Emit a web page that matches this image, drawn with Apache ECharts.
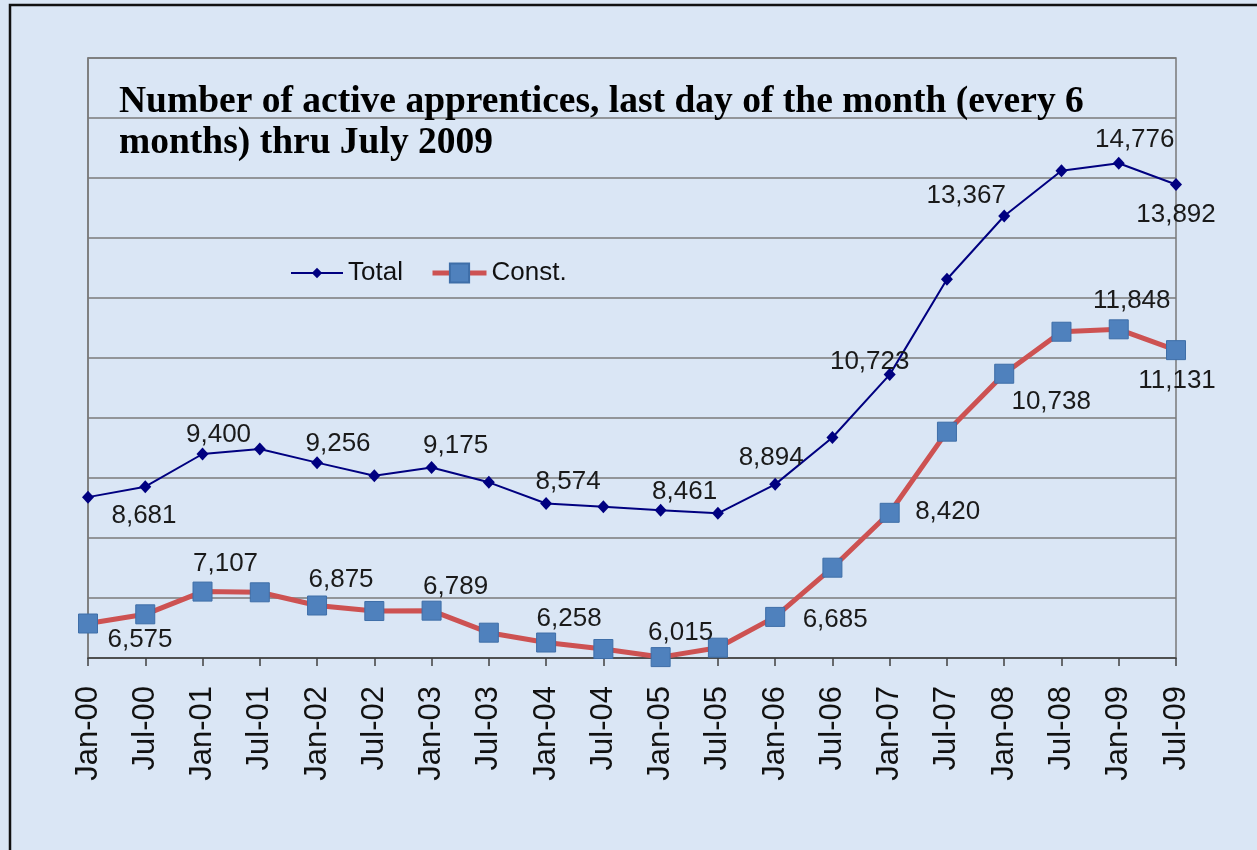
<!DOCTYPE html>
<html>
<head>
<meta charset="utf-8">
<script src="https://cdn.jsdelivr.net/npm/echarts@6/dist/echarts.min.js"></script>
<style>
html,body{margin:0;padding:0;background:#dae6f5;}
#chart{width:1257px;height:850px;}
</style>
</head>
<body>
<div id="chart"></div>
<script>
const categories = ['Jan-00','Jul-00','Jan-01','Jul-01','Jan-02','Jul-02','Jan-03','Jul-03','Jan-04','Jul-04',
  'Jan-05','Jul-05','Jan-06','Jul-06','Jan-07','Jul-07','Jan-08','Jul-08','Jan-09','Jul-09'];
const totalValues = [8681, 8855, 9400, 9483, 9256, 9038, 9175, 8928, 8574, 8522,
  8461, 8412, 8894, 9675, 10723, 12312, 13367, 14122, 14245, 13892];
const constValues = [6575, 6728, 7107, 7095, 6875, 6783, 6789, 6422, 6258, 6150,
  6015, 6172, 6685, 7505, 8420, 9772, 10738, 11438, 11478, 11131];
const totalLabels = ['8,681','','9,400','','9,256','','9,175','','8,574','',
  '8,461','','8,894','','10,723','','13,367','','14,776','13,892'];
const constLabels = ['6,575','','7,107','','6,875','','6,789','','6,258','',
  '6,015','','6,685','','8,420','','10,738','','11,848','11,131'];
const yMin = 6000, yMax = 16000, yStep = 1000;
const titleText = 'Number of active apprentices, last day of the month (every 6\nmonths) thru July 2009';

// label placement (layout only)
const totalLabelOffsets = [[56,19],null,[16,-19],null,[21,-19],null,[24,-22],null,[22,-22],null,
  [24,-19],null,[-4,-27],null,[-20,-13],null,[-38,-20],null,[16,-23],[0,30]];
const constLabelOffsets = [[52,16],null,[23,-28],null,[24,-26],null,[24,-24],null,[23,-24],null,
  [20,-24],null,[60,3],null,[58,-1],null,[47,28],null,[13,-28],[1,31]];

function buildData(values, offsets) {
  return values.map((v, i) => offsets[i] ? { value: v, label: { offset: offsets[i] } } : { value: v });
}

const labelStyle = {
  show: true, position: 'inside', fontFamily: 'Liberation Sans, Arial, sans-serif',
  fontSize: 26, color: '#1a1a1a'
};

const chart = echarts.init(document.getElementById('chart'));
chart.setOption({
  backgroundColor: '#dae6f5',
  animation: false,
  title: {
    text: titleText, left: 114, top: 77,
    textStyle: { fontFamily: 'Liberation Serif, Times New Roman, serif', fontWeight: 'bold',
      fontSize: 37.5, lineHeight: 41, color: '#000' }
  },
  legend: [
    { data: ['Total'], left: 290, top: 260, padding: 0, itemWidth: 52, itemHeight: 13,
      lineStyle: { width: 2 },
      textStyle: { fontFamily: 'Liberation Sans, Arial, sans-serif', fontSize: 26, color: '#111' } },
    { data: ['Const.'], left: 430, top: 260, padding: 0, itemWidth: 54, itemHeight: 24,
      lineStyle: { width: 5 },
      textStyle: { fontFamily: 'Liberation Sans, Arial, sans-serif', fontSize: 26, color: '#111' } }
  ],
  graphic: [{
    type: 'rect', shape: { x: 10, y: 5, width: 1300, height: 900 },
    style: { fill: 'none', stroke: '#111', lineWidth: 2.5 }, silent: true
  }],
  grid: { left: 88, right: 81, top: 58, bottom: 192, show: true, borderColor: '#7a7a7a',
    borderWidth: 1.5, backgroundColor: 'transparent' },
  xAxis: {
    type: 'category', data: categories, boundaryGap: false,
    axisLine: { lineStyle: { color: '#404040', width: 1.5 } },
    axisTick: { show: true, length: 8, lineStyle: { color: '#404040', width: 1.5 } },
    axisLabel: { rotate: 90, interval: 0, margin: 28, fontSize: 31, color: '#111',
      fontFamily: 'Liberation Sans, Arial, sans-serif' },
    splitLine: { show: false }
  },
  yAxis: {
    type: 'value', min: yMin, max: yMax, interval: yStep,
    axisLabel: { show: false }, axisTick: { show: false },
    axisLine: { show: true, lineStyle: { color: '#7a7a7a', width: 1.5 } },
    splitLine: { lineStyle: { color: '#7a7a7a', width: 1.5 } }
  },
  series: [
    {
      name: 'Total', type: 'line', data: buildData(totalValues, totalLabelOffsets),
      symbol: 'diamond', symbolSize: [12, 13],
      lineStyle: { color: '#000080', width: 2 },
      itemStyle: { color: '#000080' },
      label: Object.assign({}, labelStyle, { formatter: p => totalLabels[p.dataIndex] })
    },
    {
      name: 'Const.', type: 'line', data: buildData(constValues, constLabelOffsets),
      symbol: 'rect', symbolSize: 19,
      lineStyle: { color: '#cd5252', width: 5 },
      itemStyle: { color: '#4f81bd', borderColor: '#3e6ea8', borderWidth: 1 },
      label: Object.assign({}, labelStyle, { formatter: p => constLabels[p.dataIndex] })
    }
  ]
});
</script>
</body>
</html>
